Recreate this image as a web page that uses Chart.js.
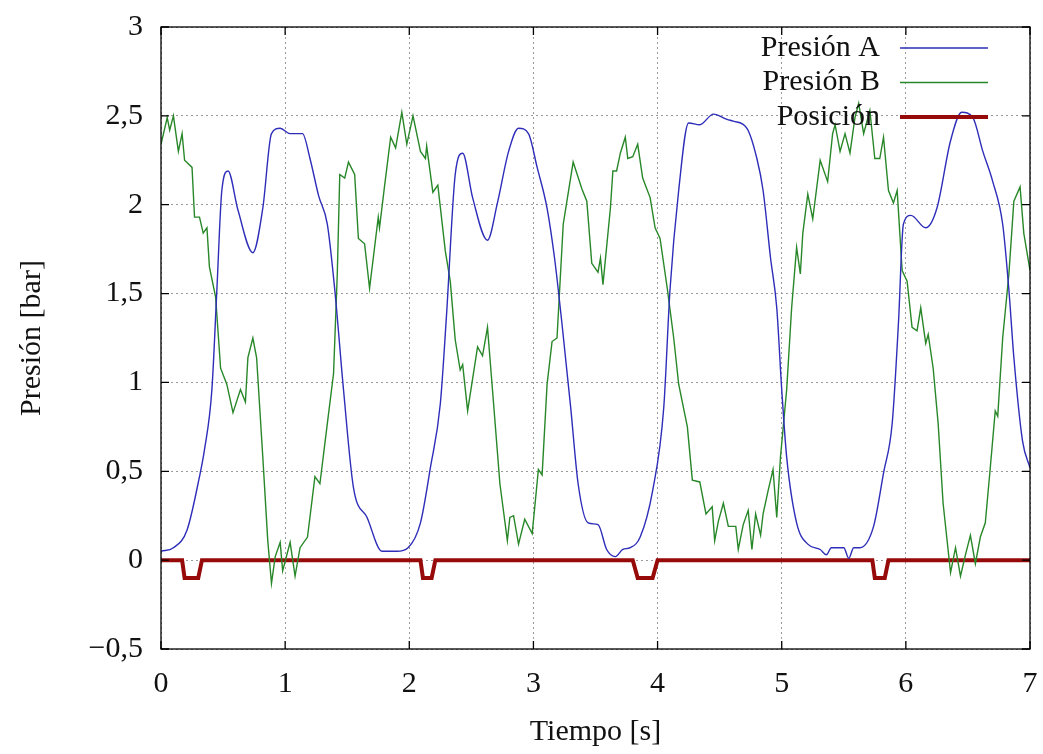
<!DOCTYPE html>
<html>
<head>
<meta charset="utf-8">
<script src="https://cdn.jsdelivr.net/npm/chart.js@4"></script>
<style>
  html, body { margin: 0; padding: 0; background: #fff; }
  #wrap { width: 1043px; height: 754px; }
</style>
</head>
<body>
<div id="wrap"><canvas id="presionChart" width="1043" height="754"></canvas></div>
<script>
// valores (tiempo en s, presion en bar)
const timeA = [0.00, 0.10, 0.21, 0.31, 0.35, 0.41, 0.45, 0.49, 0.54, 0.62, 0.74, 0.82, 0.89, 0.96, 1.04, 1.14, 1.20, 1.27, 1.34, 1.40, 1.47, 1.55, 1.66, 1.78, 1.90, 1.99, 2.09, 2.17, 2.25, 2.30, 2.37, 2.43, 2.51, 2.63, 2.71, 2.80, 2.88, 2.96, 3.03, 3.11, 3.17, 3.23, 3.30, 3.36, 3.44, 3.52, 3.59, 3.66, 3.72, 3.78, 3.86, 3.96, 4.05, 4.10, 4.17, 4.25, 4.34, 4.45, 4.56, 4.61, 4.72, 4.80, 4.85, 4.91, 4.96, 5.00, 5.04, 5.12, 5.21, 5.31, 5.36, 5.40, 5.45, 5.50, 5.54, 5.58, 5.63, 5.74, 5.82, 5.89, 5.94, 5.98, 6.04, 6.16, 6.25, 6.36, 6.45, 6.54, 6.62, 6.70, 6.78, 6.83, 6.87, 6.94, 7.00];
const presionA = [0.05, 0.07, 0.17, 0.47, 0.62, 0.96, 1.52, 2.08, 2.19, 1.97, 1.73, 1.98, 2.40, 2.43, 2.40, 2.40, 2.26, 2.05, 1.89, 1.52, 0.96, 0.41, 0.24, 0.05, 0.05, 0.07, 0.21, 0.52, 0.88, 1.38, 2.17, 2.29, 2.04, 1.80, 2.01, 2.30, 2.43, 2.40, 2.21, 1.98, 1.70, 1.33, 0.86, 0.43, 0.21, 0.20, 0.06, 0.02, 0.06, 0.07, 0.13, 0.39, 0.86, 1.52, 2.08, 2.46, 2.45, 2.51, 2.48, 2.47, 2.43, 2.26, 2.08, 1.70, 1.42, 0.96, 0.58, 0.21, 0.09, 0.06, 0.03, 0.07, 0.07, 0.07, 0.01, 0.07, 0.07, 0.19, 0.49, 0.77, 1.33, 1.89, 1.94, 1.87, 1.98, 2.36, 2.52, 2.49, 2.30, 2.13, 1.89, 1.52, 1.14, 0.67, 0.52];

const timeB = [0.00, 0.05, 0.07, 0.10, 0.14, 0.17, 0.19, 0.25, 0.27, 0.31, 0.34, 0.37, 0.39, 0.44, 0.48, 0.53, 0.58, 0.64, 0.68, 0.70, 0.74, 0.77, 0.82, 0.86, 0.89, 0.92, 0.96, 0.98, 1.04, 1.08, 1.12, 1.18, 1.24, 1.28, 1.34, 1.39, 1.42, 1.44, 1.48, 1.51, 1.56, 1.59, 1.64, 1.68, 1.71, 1.75, 1.76, 1.80, 1.85, 1.89, 1.91, 1.94, 1.98, 2.03, 2.09, 2.13, 2.14, 2.19, 2.23, 2.29, 2.33, 2.37, 2.41, 2.43, 2.47, 2.55, 2.59, 2.63, 2.67, 2.73, 2.79, 2.81, 2.84, 2.88, 2.93, 2.99, 3.04, 3.07, 3.11, 3.15, 3.19, 3.24, 3.32, 3.39, 3.43, 3.47, 3.52, 3.54, 3.56, 3.62, 3.64, 3.67, 3.70, 3.74, 3.76, 3.80, 3.84, 3.88, 3.94, 3.98, 4.02, 4.08, 4.13, 4.17, 4.24, 4.28, 4.34, 4.39, 4.44, 4.46, 4.49, 4.53, 4.57, 4.63, 4.65, 4.69, 4.73, 4.76, 4.79, 4.83, 4.85, 4.89, 4.93, 4.96, 4.99, 5.04, 5.08, 5.12, 5.15, 5.17, 5.21, 5.25, 5.31, 5.37, 5.41, 5.43, 5.47, 5.51, 5.55, 5.59, 5.62, 5.66, 5.71, 5.75, 5.79, 5.82, 5.86, 5.90, 5.93, 5.97, 6.01, 6.05, 6.09, 6.12, 6.16, 6.18, 6.22, 6.26, 6.30, 6.36, 6.40, 6.44, 6.48, 6.52, 6.56, 6.60, 6.64, 6.68, 6.72, 6.74, 6.78, 6.83, 6.87, 6.92, 6.95, 7.00];
const presionB = [2.34, 2.49, 2.42, 2.50, 2.30, 2.40, 2.25, 2.21, 1.93, 1.93, 1.84, 1.87, 1.65, 1.48, 1.08, 0.99, 0.83, 0.96, 0.89, 1.14, 1.25, 1.14, 0.58, 0.11, -0.13, 0.02, 0.10, -0.06, 0.10, -0.09, 0.07, 0.13, 0.47, 0.43, 0.77, 1.05, 1.61, 2.17, 2.15, 2.24, 2.17, 1.81, 1.78, 1.53, 1.70, 1.93, 1.87, 2.10, 2.38, 2.32, 2.40, 2.52, 2.34, 2.50, 2.30, 2.26, 2.33, 2.07, 2.11, 1.74, 1.57, 1.24, 1.07, 1.10, 0.84, 1.20, 1.15, 1.31, 0.96, 0.43, 0.11, 0.24, 0.25, 0.09, 0.23, 0.15, 0.51, 0.48, 0.99, 1.23, 1.25, 1.89, 2.24, 2.09, 2.02, 1.67, 1.62, 1.70, 1.55, 1.98, 2.19, 2.19, 2.29, 2.38, 2.26, 2.27, 2.34, 2.15, 2.04, 1.87, 1.81, 1.52, 1.25, 0.99, 0.75, 0.45, 0.44, 0.26, 0.30, 0.11, 0.22, 0.32, 0.19, 0.19, 0.06, 0.20, 0.28, 0.06, 0.26, 0.14, 0.26, 0.39, 0.51, 0.24, 0.58, 0.96, 1.42, 1.76, 1.61, 1.84, 2.06, 1.92, 2.25, 2.13, 2.40, 2.45, 2.30, 2.40, 2.29, 2.49, 2.57, 2.40, 2.53, 2.26, 2.26, 2.38, 2.08, 2.01, 2.08, 1.63, 1.57, 1.31, 1.29, 1.42, 1.22, 1.27, 1.08, 0.77, 0.32, -0.07, 0.07, -0.09, 0.03, 0.14, -0.02, 0.13, 0.21, 0.52, 0.84, 0.81, 1.25, 1.61, 2.02, 2.10, 1.84, 1.63];

const timePos = [0, 0.17, 0.19, 0.30, 0.33, 2.09, 2.11, 2.18, 2.21, 3.80, 3.84, 3.96, 4.00, 5.73, 5.75, 5.83, 5.86, 7];
const posicion = [0, 0, -0.1, -0.1, 0, 0, -0.1, -0.1, 0, 0, -0.1, -0.1, 0, 0, -0.1, -0.1, 0, 0];

const seriesLabels = ['Presión A', 'Presión B', 'Posición'];
const yTickLabels = ['−0,5', '0', '0,5', '1', '1,5', '2', '2,5', '3'];
const xTickLabels = ['0', '1', '2', '3', '4', '5', '6', '7'];

const FONT = "'Liberation Serif', 'Times New Roman', serif";

function toPoints(xs, ys) {
  return xs.map((x, i) => ({ x: x, y: ys[i] }));
}

// marco, marcas interiores y leyenda al estilo gnuplot
const gnuplotFrame = {
  id: 'gnuplotFrame',
  afterDatasetsDraw(chart) {
    const ctx = chart.ctx;
    const a = chart.chartArea;
    const xs = chart.scales.x, ys = chart.scales.y;
    ctx.save();
    ctx.strokeStyle = '#000';
    ctx.lineWidth = 1.3;
    ctx.strokeRect(a.left, a.top, a.right - a.left, a.bottom - a.top);
    ctx.beginPath();
    xs.ticks.forEach(t => {
      const px = xs.getPixelForValue(t.value);
      ctx.moveTo(px, a.bottom); ctx.lineTo(px, a.bottom - 8);
      ctx.moveTo(px, a.top); ctx.lineTo(px, a.top + 8);
    });
    ys.ticks.forEach(t => {
      const py = ys.getPixelForValue(t.value);
      ctx.moveTo(a.left, py); ctx.lineTo(a.left + 8, py);
      ctx.moveTo(a.right, py); ctx.lineTo(a.right - 8, py);
    });
    ctx.stroke();
    ctx.font = '30px ' + FONT;
    ctx.textAlign = 'right';
    ctx.textBaseline = 'middle';
    chart.data.datasets.forEach((ds, i) => {
      const y = a.top + 21 + i * 34.5;
      ctx.fillStyle = '#111';
      ctx.fillText(ds.label, a.right - 150, y);
      ctx.strokeStyle = ds.borderColor;
      ctx.lineWidth = ds.borderWidth;
      ctx.beginPath();
      ctx.moveTo(a.right - 130, y);
      ctx.lineTo(a.right - 42, y);
      ctx.stroke();
    });
    ctx.restore();
  }
};

const ctx = document.getElementById('presionChart').getContext('2d');
const presionChart = new Chart(ctx, {
  type: 'line',
  data: {
    datasets: [{
      label: seriesLabels[0],
      data: toPoints(timeA, presionA),
      borderColor: 'rgb(45, 45, 185)',
      borderWidth: 1.4,
      pointRadius: 0,
      cubicInterpolationMode: 'monotone'
    }, {
      label: seriesLabels[1],
      data: toPoints(timeB, presionB),
      borderColor: 'rgb(40, 135, 40)',
      borderWidth: 1.4,
      pointRadius: 0,
      tension: 0
    }, {
      label: seriesLabels[2],
      data: toPoints(timePos, posicion),
      borderColor: 'rgb(150, 10, 10)',
      borderWidth: 4,
      pointRadius: 0,
      tension: 0
    }]
  },
  options: {
    responsive: false,
    animation: false,
    layout: { padding: { left: 10, right: 13, top: 27, bottom: 0 } },
    plugins: {
      legend: { display: false },
      tooltip: { enabled: false }
    },
    scales: {
      x: {
        type: 'linear',
        min: 0,
        max: 7,
        ticks: {
          stepSize: 1,
          padding: 17,
          color: '#111',
          font: { family: FONT, size: 30 },
          callback: (v, i) => xTickLabels[i]
        },
        grid: { color: '#9a9a9a', lineWidth: 1, drawTicks: false },
        border: { display: false, dash: [2, 3] },
        title: {
          display: true,
          text: 'Tiempo [s]',
          color: '#111',
          font: { family: FONT, size: 30 },
          padding: { top: 8, bottom: 4 }
        },
        afterFit: s => {
          s.height = 754 - 649;
          s.paddingLeft = 0;
          s.paddingRight = 0;
        }
      },
      y: {
        min: -0.5,
        max: 3,
        ticks: {
          stepSize: 0.5,
          padding: 18,
          color: '#111',
          font: { family: FONT, size: 30 },
          callback: (v, i) => yTickLabels[i]
        },
        grid: { color: '#9a9a9a', lineWidth: 1, drawTicks: false },
        border: { display: false, dash: [2, 3] },
        title: {
          display: true,
          text: 'Presión [bar]',
          color: '#111',
          font: { family: FONT, size: 30 },
          padding: { bottom: 4 }
        },
        afterFit: s => {
          s.width = 161 - 10;
          s.paddingTop = 0;
          s.paddingBottom = 0;
        }
      }
    }
  },
  plugins: [gnuplotFrame]
});
</script>
</body>
</html>
